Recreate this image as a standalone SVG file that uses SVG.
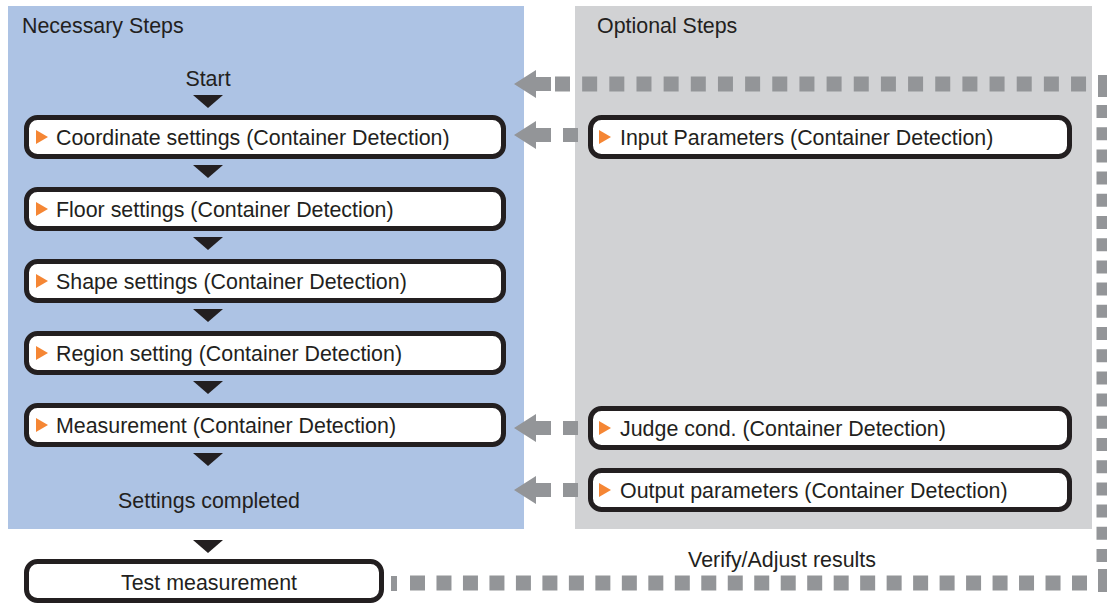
<svg xmlns="http://www.w3.org/2000/svg" width="1107" height="603" viewBox="0 0 1107 603">
<style>
.t{font-family:"Liberation Sans",Arial,sans-serif;font-size:21.4px;fill:#231f20}
.c{text-anchor:middle}
.box{fill:#fff;stroke:#231f20;stroke-width:5}
.tri{fill:#231f20}
.or{fill:#f58634}
.dot{fill:none;stroke:#939598;stroke-width:15}
.ah{fill:#939598}
</style>
<rect id="necessary-panel" x="8" y="6" width="516" height="523" fill="#adc3e4"/>
<rect id="optional-panel" x="575" y="6" width="517" height="523" fill="#d1d2d4"/>
<text class="t" x="22" y="33">Necessary Steps</text>
<text class="t" x="597" y="33">Optional Steps</text>
<text class="t c" x="208" y="86">Start</text>
<text class="t c" x="209" y="508">Settings completed</text>
<text class="t c" x="782" y="567">Verify/Adjust results</text>

<g id="connectors">
<polygon class="tri" points="193,95 223,95 208,108"/>
<polygon class="tri" points="193,165 223,165 208,178"/>
<polygon class="tri" points="193,237 223,237 208,250"/>
<polygon class="tri" points="193,309 223,309 208,322"/>
<polygon class="tri" points="193,381 223,381 208,394"/>
<polygon class="tri" points="193,453 223,453 208,466"/>
<polygon class="tri" points="193,540 223,540 208,553"/>
<path class="dot" d="M555,84 H1090" stroke-dasharray="15 12.16"/>
<path class="dot" d="M1104,105 V562" stroke-dasharray="13 9.2"/>
<path class="dot" d="M410,583 H1090" stroke-dasharray="15 11.48"/>
<rect class="ah" x="391" y="576" width="6" height="15"/>
<rect class="ah" x="1098" y="75" width="14" height="22"/>
<rect class="ah" x="1098" y="569" width="14" height="23"/>
<polygon class="ah" points="514,84 536,70 536,77 551,77 551,91 536,91 536,98"/>
<polygon class="ah" points="514,135 536,121 536,128 551,128 551,142 536,142 536,149"/>
<rect class="ah" x="563" y="128" width="15" height="14"/>
<polygon class="ah" points="514,428 536,414 536,421 551,421 551,435 536,435 536,442"/>
<rect class="ah" x="563" y="421" width="15" height="14"/>
<polygon class="ah" points="514,490 536,476 536,483 551,483 551,497 536,497 536,504"/>
<rect class="ah" x="563" y="483" width="15" height="14"/>
</g>

<g id="coordinate-settings">
<rect class="box" x="26.5" y="117.5" width="477" height="39" rx="11"/>
<polygon class="or" points="36,130 36,144 48,137"/>
<text class="t" x="56" y="144.5">Coordinate settings (Container Detection)</text>
</g>
<g id="floor-settings">
<rect class="box" x="26.5" y="189.5" width="477" height="39" rx="11"/>
<polygon class="or" points="36,202 36,216 48,209"/>
<text class="t" x="56" y="216.5">Floor settings (Container Detection)</text>
</g>
<g id="shape-settings">
<rect class="box" x="26.5" y="261.5" width="477" height="39" rx="11"/>
<polygon class="or" points="36,274 36,288 48,281"/>
<text class="t" x="56" y="288.5">Shape settings (Container Detection)</text>
</g>
<g id="region-setting">
<rect class="box" x="26.5" y="333.5" width="477" height="39" rx="11"/>
<polygon class="or" points="36,346 36,360 48,353"/>
<text class="t" x="56" y="360.5">Region setting (Container Detection)</text>
</g>
<g id="measurement">
<rect class="box" x="26.5" y="405.5" width="477" height="39" rx="11"/>
<polygon class="or" points="36,418 36,432 48,425"/>
<text class="t" x="56" y="432.5">Measurement (Container Detection)</text>
</g>
<g id="test-measurement">
<rect class="box" x="26.5" y="561.5" width="355" height="39" rx="11"/>
<text class="t c" x="209" y="590">Test measurement</text>
</g>
<g id="input-parameters">
<rect class="box" x="590.5" y="117.5" width="479" height="39" rx="11"/>
<polygon class="or" points="599,130 599,144 611,137"/>
<text class="t" x="620" y="144.5">Input Parameters (Container Detection)</text>
</g>
<g id="judge-cond">
<rect class="box" x="590.5" y="408.5" width="479" height="39" rx="11"/>
<polygon class="or" points="599,421 599,435 611,428"/>
<text class="t" x="620" y="435.5">Judge cond. (Container Detection)</text>
</g>
<g id="output-parameters">
<rect class="box" x="590.5" y="470.5" width="479" height="39" rx="11"/>
<polygon class="or" points="599,483 599,497 611,490"/>
<text class="t" x="620" y="497.5">Output parameters (Container Detection)</text>
</g>
</svg>
